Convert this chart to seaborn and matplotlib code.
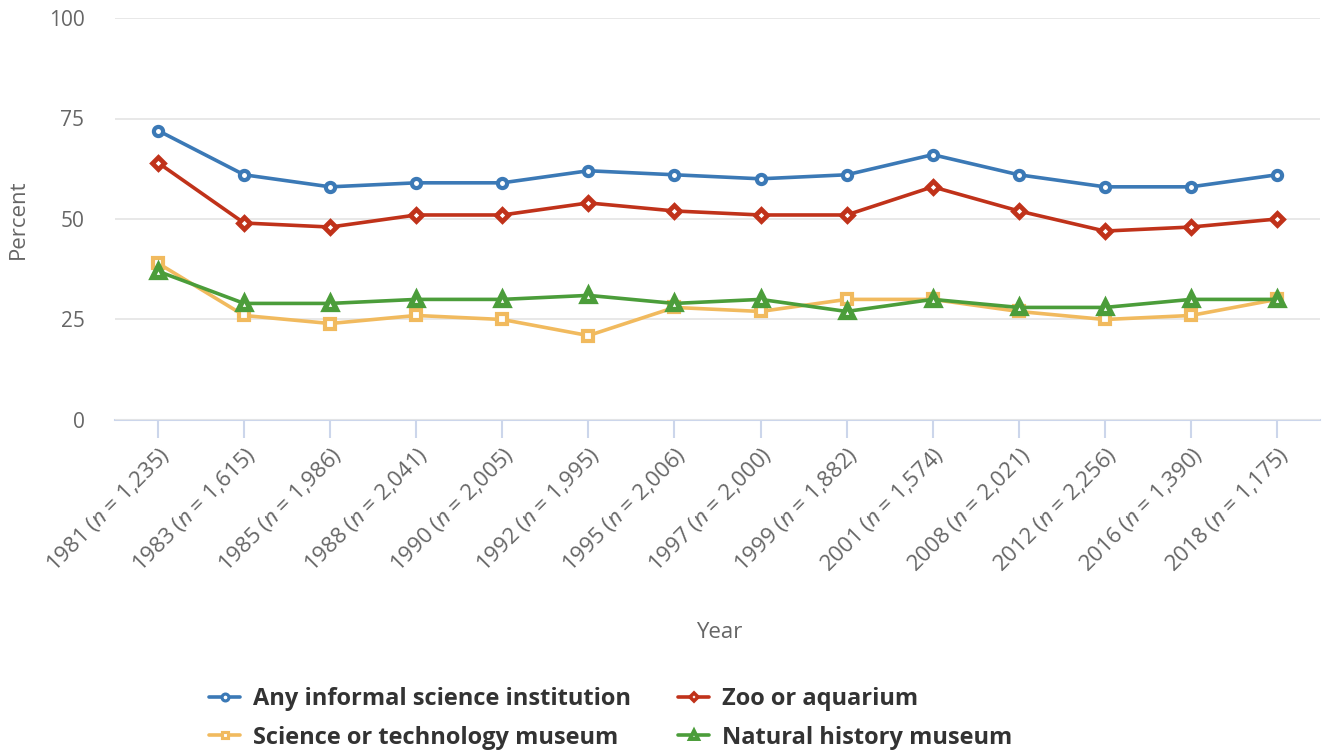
import numpy as np
import pandas as pd
import seaborn as sns
import matplotlib.pyplot as plt
from matplotlib.lines import Line2D

years = ['1981', '1983', '1985', '1988', '1990', '1992', '1995',
         '1997', '1999', '2001', '2008', '2012', '2016', '2018']
n_sizes = ['1,235', '1,615', '1,986', '2,041', '2,005', '1,995', '2,006',
           '2,000', '1,882', '1,574', '2,021', '2,256', '1,390', '1,175']

any_informal = [72, 61, 58, 59, 59, 62, 61, 60, 61, 66, 61, 58, 58, 61]
zoo_aquarium = [64, 49, 48, 51, 51, 54, 52, 51, 51, 58, 52, 47, 48, 50]
sci_tech_museum = [39, 26, 24, 26, 25, 21, 28, 27, 30, 30, 27, 25, 26, 30]
nat_hist_museum = [37, 29, 29, 30, 30, 31, 29, 30, 27, 30, 28, 28, 30, 30]

series_names = ['Any informal science institution', 'Zoo or aquarium',
                'Science or technology museum', 'Natural history museum']
colors = ['#3b79b6', '#c0321a', '#f1ba5e', '#4b9d3a']
marker_map = ['o', 'D', 's', '^']
marker_size = [6.6, 6.0, 6.6, 8.0]
marker_ew = [3.0, 3.4, 3.0, 3.8]

sns.set_style('white')
plt.rcParams['font.family'] = ['Open Sans', 'DejaVu Sans']
plt.rcParams['mathtext.fontset'] = 'custom'
plt.rcParams['mathtext.it'] = 'Open Sans:italic'
plt.rcParams['mathtext.rm'] = 'Open Sans'

labels = ['%s ($\\it{n}$ = %s)' % (y, n) for y, n in zip(years, n_sizes)]

df = pd.DataFrame({
    'Year': labels * 4,
    'Percent': any_informal + zoo_aquarium + sci_tech_museum + nat_hist_museum,
    'series': sum([[s] * len(years) for s in series_names], []),
})

fig = plt.figure(figsize=(13.25, 7.53), dpi=100)
ax = fig.add_axes([115 / 1325, 1 - 420 / 753, 1205 / 1325, 402 / 753])

sns.lineplot(data=df, x='Year', y='Percent', hue='series', style='series',
             palette=dict(zip(series_names, colors)),
             markers=dict(zip(series_names, marker_map)), dashes=False,
             sort=False, linewidth=2.6, legend=False, ax=ax)

for line, c, ms, ew in zip(ax.lines, colors, marker_size, marker_ew):
    line.set_markerfacecolor('white')
    line.set_markeredgecolor(c)
    line.set_markeredgewidth(ew)
    line.set_markersize(ms)

ax.set_xlim(-0.5, len(years) - 0.5)
ax.set_ylim(0, 100)
ax.set_yticks([0, 25, 50, 75, 100])
ax.yaxis.grid(True, color='#e6e6e6', linewidth=1.3)
ax.set_axisbelow(True)
for s in ['top', 'right', 'left']:
    ax.spines[s].set_visible(False)
ax.spines['bottom'].set_color('#ccd6eb')
ax.spines['bottom'].set_linewidth(1.5)
ax.spines['bottom'].set_zorder(0.5)

ax.tick_params(axis='y', length=0, pad=22, labelsize=15, labelcolor='#666666')
ax.tick_params(axis='x', length=13, width=1.5, color='#ccd6eb', pad=4,
               labelsize=16, labelcolor='#666666', bottom=True)
ax.set_xticks(range(len(years)))
ax.set_xticklabels(labels, rotation=45, ha='right', rotation_mode='anchor')

ax.set_xlabel('Year', fontsize=16, color='#666666')
ax.xaxis.set_label_coords((719 - 115) / 1205, (420 - 632) / 402)
ax.xaxis.label.set_va('center')
ax.set_ylabel('Percent', fontsize=16, color='#666666', labelpad=14)

order = [0, 2, 1, 3]
handles = [Line2D([0], [0], color=colors[i], marker=marker_map[i],
                  markersize=marker_size[i] * 0.75,
                  markerfacecolor='white', markeredgecolor=colors[i],
                  markeredgewidth=marker_ew[i] * 0.75, linewidth=2.6)
           for i in order]
fig.legend(handles, [series_names[i] for i in order], loc='center', ncol=2,
           bbox_to_anchor=(0.461, 1 - 718.5 / 753), frameon=False,
           prop={'weight': 'bold', 'size': 17}, labelcolor='#333333',
           handlelength=1.3, handletextpad=0.55, columnspacing=2.0,
           labelspacing=0.6)

plt.savefig('out.png', dpi=100)
